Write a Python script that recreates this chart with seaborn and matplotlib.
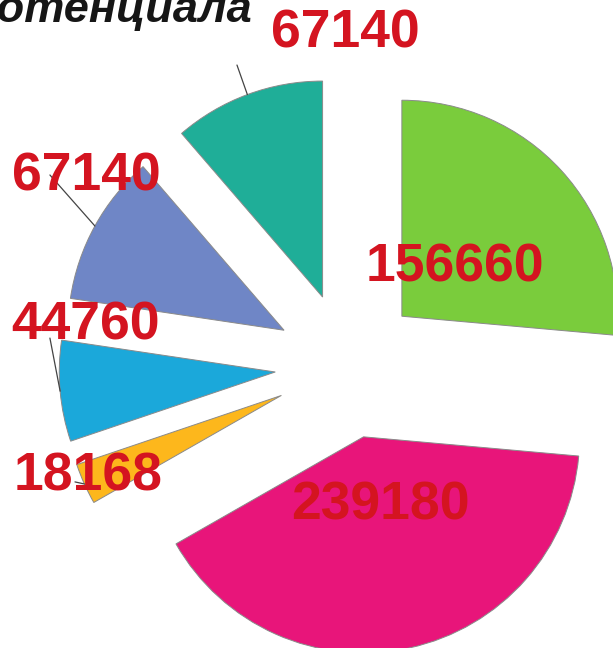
import numpy as np
import matplotlib
matplotlib.use("Agg")
import matplotlib.pyplot as plt
import seaborn as sns

# slice values, clockwise from 12 o'clock
values = [156660, 239180, 18168, 44760, 67140, 67140]
labels = ["156660", "239180", "18168", "44760", "67140", "67140"]
colors = ["#7ACC3C", "#E8157A", "#FDB71C", "#1BA8DA", "#6F86C6", "#1FAE98"]
title = "потенциала"

# where the value labels sit (data units, pie radius = 1)
label_pos = [(0.495, 0.456), (0.148, -0.650), (-1.204, -0.512),
             (-1.213, 0.183), (-1.213, 0.873), (-0.014, 1.539)]
# label-side end of the leader lines (None = no leader)
leader_end = [None, None, (-1.264, -0.539), (-1.380, 0.127),
              (-1.380, 0.882), (-0.514, 1.391)]

sns.set_theme(style="white")
plt.rcParams['font.family'] = ['Liberation Sans', 'DejaVu Sans']

fig = plt.figure(figsize=(6.13, 6.48), dpi=100)
ax = fig.add_axes([0, 0, 1, 1])

wedges, _ = ax.pie(values, colors=colors, startangle=90, counterclock=False,
                   explode=[0.338] * len(values), radius=1,
                   wedgeprops=dict(edgecolor="#8a8a8a", linewidth=0.7))

for w, lab, pos, end in zip(wedges, labels, label_pos, leader_end):
    if end is not None:
        mid = np.deg2rad((w.theta1 + w.theta2) / 2)
        cx, cy = w.center
        ax.plot([cx + w.r * np.cos(mid), end[0]], [cy + w.r * np.sin(mid), end[1]],
                color="#444444", lw=0.9, zorder=1)
    ax.text(pos[0], pos[1], lab, ha="center", va="center", fontsize=38.5,
            fontweight="bold", color="#D41420", zorder=5)

ax.set_xlim(-348 / 216, (613 - 348) / 216)
ax.set_ylim(-(648 - 365.5) / 216, 365.5 / 216)
ax.set_aspect("equal")
ax.axis("off")

fig.text(252 / 613, 1 - 22 / 648, title, ha="right", va="baseline",
         fontsize=32.5, fontweight="bold", fontstyle="italic", color="#161616")

fig.savefig("out.png", dpi=100, facecolor="white")
